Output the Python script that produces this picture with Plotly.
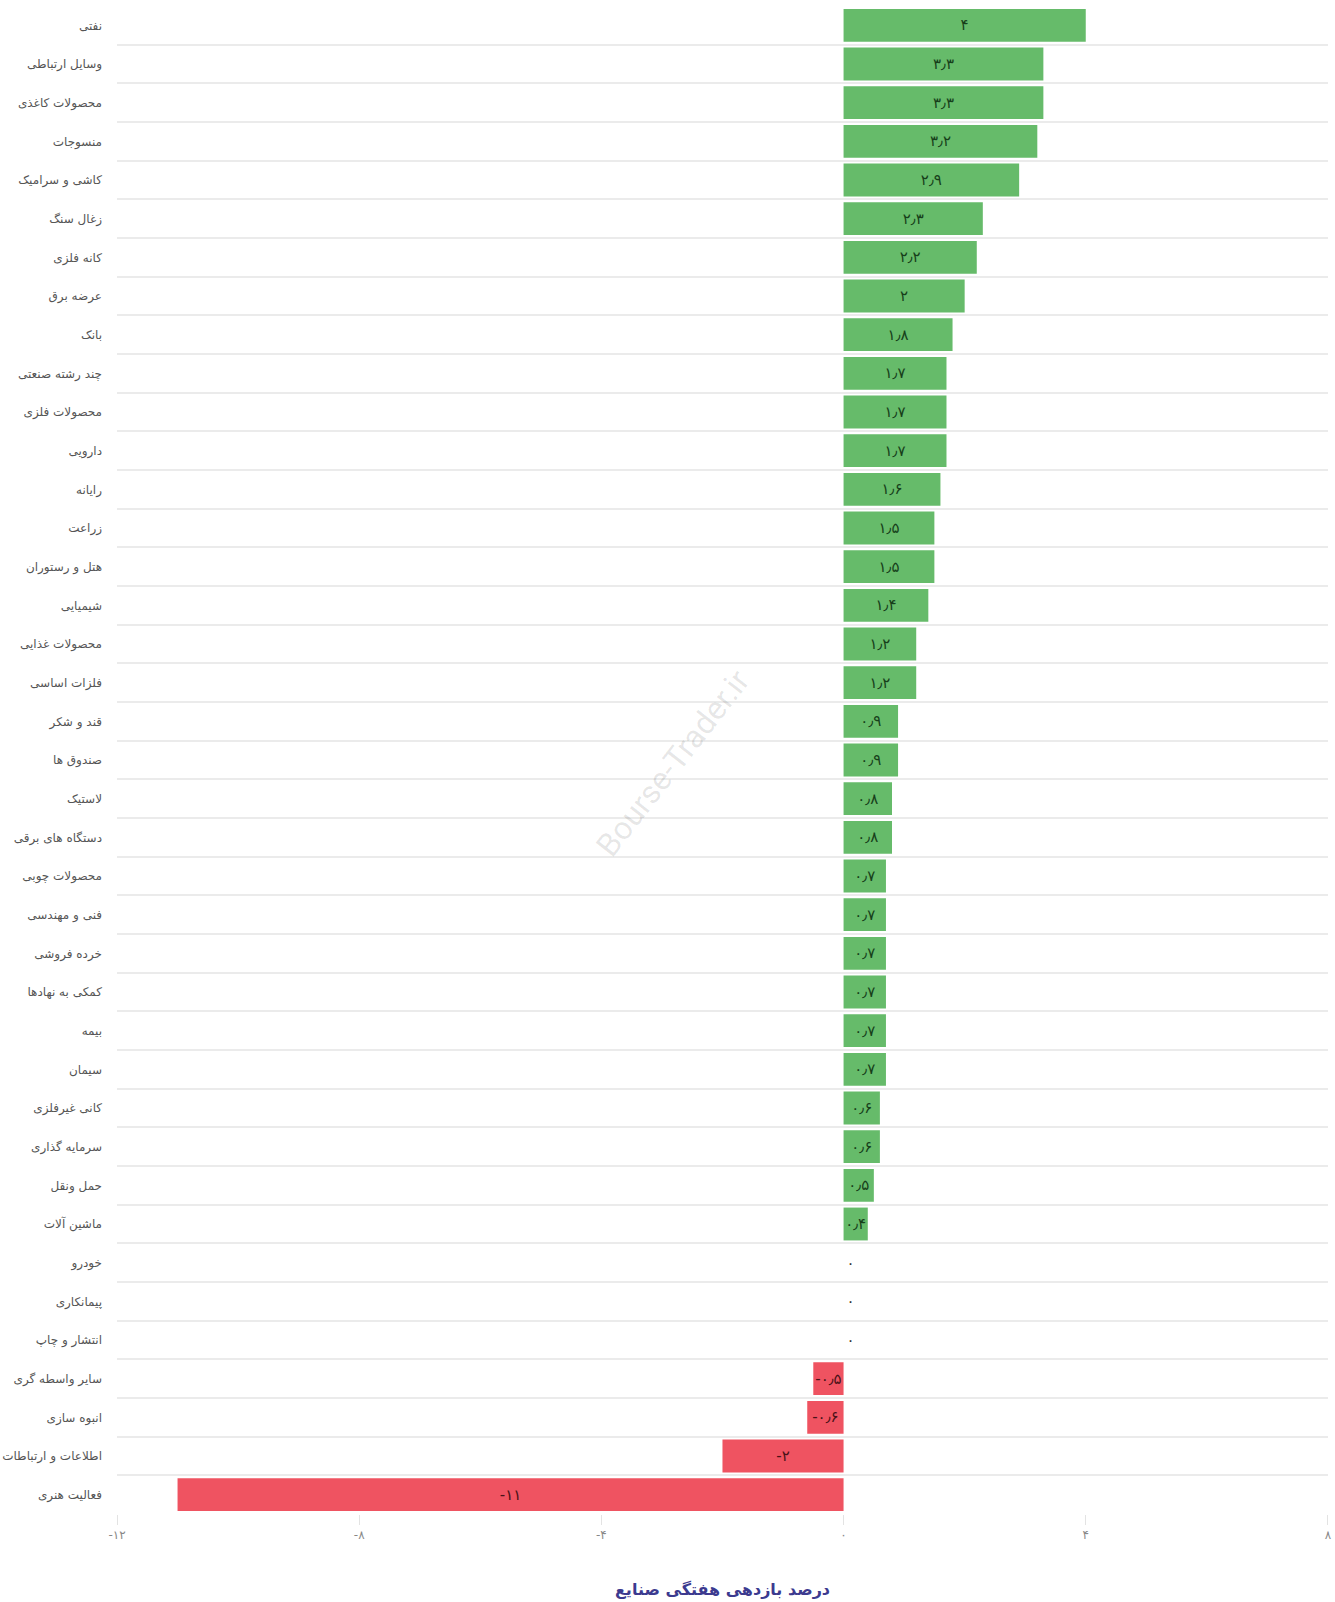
import plotly.graph_objects as go

categories = [
    "نفتی", "وسایل ارتباطی", "محصولات کاغذی", "منسوجات", "کاشی و سرامیک",
    "زغال سنگ", "کانه فلزی", "عرضه برق", "بانک", "چند رشته صنعتی",
    "محصولات فلزی", "دارویی", "رایانه", "زراعت", "هتل و رستوران",
    "شیمیایی", "محصولات غذایی", "فلزات اساسی", "قند و شکر", "صندوق ها",
    "لاستیک", "دستگاه های برقی", "محصولات چوبی", "فنی و مهندسی", "خرده فروشی",
    "کمکی به نهادها", "بیمه", "سیمان", "کانی غیرفلزی", "سرمایه گذاری",
    "حمل ونقل", "ماشین آلات", "خودرو", "پیمانکاری", "انتشار و چاپ",
    "سایر واسطه گری", "انبوه سازی", "اطلاعات و ارتباطات", "فعالیت هنری",
]
values = [
    4, 3.3, 3.3, 3.2, 2.9,
    2.3, 2.2, 2, 1.8, 1.7,
    1.7, 1.7, 1.6, 1.5, 1.5,
    1.4, 1.2, 1.2, 0.9, 0.9,
    0.8, 0.8, 0.7, 0.7, 0.7,
    0.7, 0.7, 0.7, 0.6, 0.6,
    0.5, 0.4, 0, 0, 0,
    -0.5, -0.6, -2, -11,
]
tick_values = [-12, -8, -4, 0, 4, 8]

PERSIAN = str.maketrans("0123456789.", "۰۱۲۳۴۵۶۷۸۹٫")


def fa(v):
    s = ("%g" % v)
    return s.translate(PERSIAN)


GREEN = "#66bb6a"
RED = "#ef5361"
colors = [GREEN if v >= 0 else RED for v in values]
text_colors = ["#173f1a" if v >= 0 else "#4a1218" for v in values]
positions = ["outside" if v == 0 else "inside" for v in values]

fig = go.Figure()
fig.add_trace(go.Bar(
    x=values,
    y=categories,
    orientation="h",
    marker=dict(color=colors, line=dict(width=0)),
    text=[fa(v) for v in values],
    textposition=positions,
    insidetextanchor="middle",
    textangle=0,
    textfont=dict(family="DejaVu Sans", size=15, color=text_colors),
    outsidetextfont=dict(family="DejaVu Sans", size=12, color="#333333"),
    cliponaxis=False,
    hoverinfo="x+y",
))

fig.update_layout(
    width=1335,
    height=1602,
    margin=dict(l=117, r=7, t=6, b=88),
    paper_bgcolor="white",
    plot_bgcolor="white",
    showlegend=False,
    bargap=0.15,
    uniformtext=dict(minsize=15, mode="show"),
    font=dict(family="DejaVu Sans"),
)

fig.update_yaxes(
    automargin=False,
    type="category",
    categoryorder="array",
    categoryarray=categories,
    autorange="reversed",
    tickson="boundaries",
    showgrid=True,
    gridcolor="#ebebeb",
    gridwidth=2,
    ticks="",
    showline=False,
    zeroline=False,
    ticklabelstandoff=14,
    tickfont=dict(family="DejaVu Sans", size=12, color="#555555"),
)

fig.update_xaxes(
    automargin=False,
    range=[-12, 8.001],
    tickvals=tick_values,
    ticktext=[fa(v) for v in tick_values],
    showgrid=False,
    zeroline=False,
    showline=False,
    ticks="outside",
    ticklen=10,
    tickcolor="#e3e3e3",
    tickwidth=1,
    tickfont=dict(family="DejaVu Sans", size=12, color="#888888"),
    title=dict(
        text="<b>درصد بازدهی هفتگی صنایع</b>",
        font=dict(family="DejaVu Sans", size=16, color="#3c3a8f"),
        standoff=42,
    ),
)

fig.add_annotation(
    text="Bourse-Trader.ir",
    xref="paper", yref="paper",
    x=0.459, y=0.498,
    showarrow=False,
    textangle=-52,
    font=dict(family="Roboto", size=32, color="rgba(0,0,0,0.10)"),
)

fig.write_html(
    "out.html",
    config={"displayModeBar": False},
    post_script="document.body.style.margin='0';document.body.style.padding='0';",
)
